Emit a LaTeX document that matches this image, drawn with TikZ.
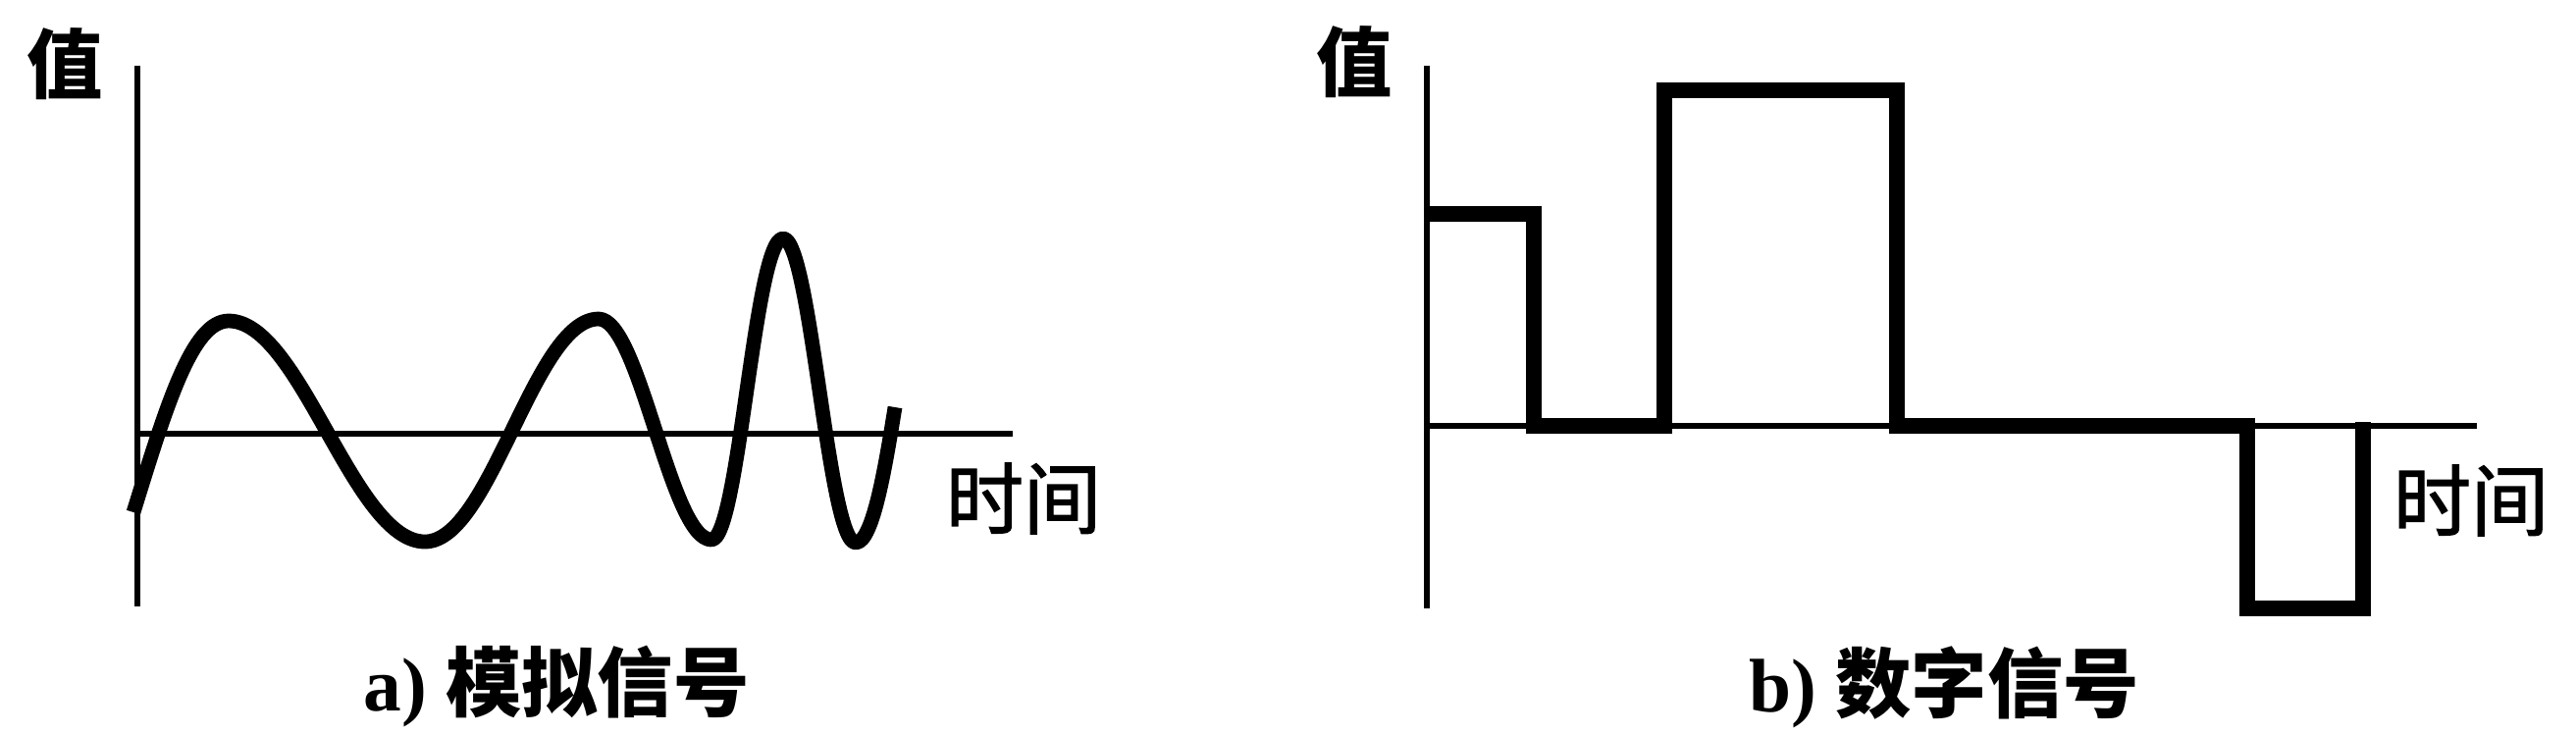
\documentclass[tikz,border=0pt]{standalone}
\usepackage{fontspec}
\setmainfont{Liberation Serif}
\newfontfamily\cjk{Noto Sans CJK SC}
\newfontfamily\cjkmed{Noto Sans CJK SC}[FakeBold=1.6]
\begin{document}
\begin{tikzpicture}[x=0.01cm,y=-0.01cm,
  axisline/.style={line width=1.45pt,line cap=butt},
  wave/.style={line width=4.2pt,line cap=butt,line join=round},
  pulse/.style={line width=4.6pt,line cap=butt,line join=miter},
  lbl/.style={inner sep=0pt,font=\fontsize{22.5pt}{22.5pt}\selectfont\cjkmed},
  vallbl/.style={inner sep=0pt,font=\fontsize{22pt}{22pt}\selectfont\cjk\bfseries},
  captext/.style={inner sep=0pt,font=\fontsize{22pt}{22pt}\selectfont\bfseries}]
\useasboundingbox (0,0) rectangle (2625,747);
% ---------- panel a ----------
\coordinate (aytop) at (140,67);
\coordinate (aybot) at (140,618);
\coordinate (ax0) at (140,442);
\coordinate (ax1) at (1032,442);
\draw[axisline] (aytop) -- (aybot);
\draw[axisline] (ax0) -- (ax1);
\node[vallbl] (avalue) at (66,65) {值};
\node[lbl] (atime) at (1043,508) {时间};
\node[captext] (acap) at (567,699) {a) {\cjk 模拟信号}};
\draw[wave] (136,522) .. controls (170,412) and (196,327) .. (233,327)
  .. controls (306,327) and (360,552) .. (433,552)
  .. controls (500,552) and (544,325) .. (610,325)
  .. controls (652,325) and (683,550) .. (725,550)
  .. controls (753,550) and (769,243) .. (798,243)
  .. controls (826,243) and (844,553) .. (872,553)
  .. controls (890,553) and (903,470) .. (912,415);
% ---------- panel b ----------
\coordinate (bytop) at (1454,67);
\coordinate (bybot) at (1454,620);
\coordinate (bx0) at (1454,434);
\coordinate (bx1) at (2524,434);
\draw[axisline] (bytop) -- (bybot);
\draw[axisline] (bx0) -- (bx1);
\node[vallbl] (bvalue) at (1380,63) {值};
\node[lbl] (btime) at (2518,510) {时间};
\node[captext] (bcap) at (1981,700) {b) {\cjk 数字信号}};
\draw[pulse] (1454,218) -- (1563,218) -- (1563,434) -- (1696,434) -- (1696,92)
  -- (1933,92) -- (1933,434) -- (2290,434) -- (2290,620) -- (2408,620) -- (2408,430);
\end{tikzpicture}
\end{document}
